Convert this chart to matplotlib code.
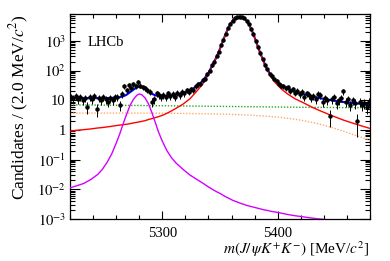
import numpy as np
import matplotlib
matplotlib.use("Agg")
import matplotlib.pyplot as plt
from matplotlib.ticker import LogLocator, FuncFormatter, MultipleLocator, NullFormatter

plt.rcParams['font.family'] = ['Liberation Serif', 'DejaVu Serif']
plt.rcParams['mathtext.fontset'] = 'stix'

# ---- data: counts per 2 MeV bin ----
bin_centers = np.arange(5221, 5480, 2)
counts = [13, 12, 14, 11, 13, 10, 12, 6, 13, 11, 14, 5, 12, 10, 13, 11, 9, 12, 10, 13,
          13, 7, 16, 30, 22, 32, 26, 34, 29, 40, 31, 27, 25, 22, 19, 9, 11, 17, 15, 13,
          15, 13, 17, 14, 16, 13, 18, 15, 19, 17, 22, 19, 24, 22, 29, 34, 36, 47,
          53, 75, 96, 148, 196, 300, 430, 700, 1090, 1760, 2600, 3750, 4800, 5700, 6350,
          6550, 6250, 5800, 4750, 3600, 2550, 1640, 1010, 610, 375, 250, 158, 112, 76, 66,
          50, 46, 36, 31, 30, 25, 27, 21, 23, 18, 21, 16, 19, 13, 17, 15, 12, 14, 11, 16,
          15, 9, 12, 10, 3, 11, 13, 8, 10, 12, 20, 9, 11, 7, 10, 8, 2, 9, 7, 8, 6, 9]

# ---- fit components sampled along the mass axis ----
curve_x = [5220, 5226, 5232, 5238, 5244, 5248, 5252, 5256, 5260, 5263, 5266, 5269, 5272,
           5275, 5278, 5280, 5282, 5285, 5288, 5291, 5294, 5297, 5300, 5304, 5308, 5312,
           5318, 5324, 5330, 5335, 5340, 5343, 5346, 5349, 5351, 5353, 5355, 5357, 5359,
           5361, 5363, 5365, 5367, 5369, 5371, 5373, 5375, 5377, 5379, 5381, 5383, 5385,
           5387, 5389, 5391, 5394, 5397, 5400, 5404, 5409, 5415, 5423, 5430, 5437, 5447,
           5457, 5468, 5480]
sig_bs = [0.91, 0.97, 1.02, 1.08, 1.16, 1.20, 1.26, 1.32, 1.40, 1.45, 1.50, 1.55, 1.62,
          1.72, 1.80, 1.86, 1.93, 2.04, 2.24, 2.40, 2.60, 2.82, 3.09, 3.63, 4.37, 5.37,
          7.41, 11.2, 20.4, 34.7, 74, 132, 229, 427, 676, 1096, 1738, 2630, 3715,
          4786, 5754, 6310, 6607, 6310, 5754, 4786, 3631, 2512, 1660, 1000, 603, 372,
          234, 151, 100, 63, 42.7, 31.6, 22.4, 15.8, 11.2, 7.94, 5.75, 4.37, 3.02,
          2.14, 1.55, 1.12]
sig_b0 = [0.0112, 0.0132, 0.0158, 0.0214, 0.0316, 0.0468, 0.0794, 0.151, 0.355, 0.708,
          1.58, 3.31, 6.61, 10.7, 14.8, 16.2, 15.5, 12.0, 7.59, 3.80, 1.74, 0.794, 0.417,
          0.200, 0.115, 0.0759, 0.0468, 0.0302, 0.0214, 0.0162, 0.0120, 0.0102, 0.00871,
          0.00759, 0.00692, 0.00617, 0.00562, 0.00513, 0.00468, 0.00427, 0.00398, 0.00372,
          0.00347, 0.00324, 0.00309, 0.00288, 0.00275, 0.00263, 0.00251, 0.00240, 0.00229,
          0.00219, 0.00209, 0.00200, 0.00195, 0.00182, 0.00174, 0.00166, 0.00155, 0.00141,
          0.00129, 0.00117, 0.00107, 0.00100, 0.00091, 0.00083, 0.00076, 0.00069]
bkg_comb = [7.00, 6.96, 6.93, 6.89, 6.85, 6.83, 6.80, 6.78, 6.75, 6.74, 6.72, 6.70, 6.68,
            6.66, 6.64, 6.63, 6.62, 6.60, 6.58, 6.56, 6.54, 6.53, 6.51, 6.48, 6.46, 6.43,
            6.40, 6.36, 6.32, 6.29, 6.26, 6.24, 6.23, 6.21, 6.20, 6.19, 6.17, 6.16, 6.15,
            6.14, 6.12, 6.11, 6.10, 6.09, 6.07, 6.06, 6.05, 6.04, 6.02, 6.01, 6.00, 5.99,
            5.97, 5.96, 5.95, 5.93, 5.91, 5.89, 5.87, 5.84, 5.80, 5.77, 5.74, 5.71, 5.68,
            5.64, 5.61, 5.58]
bkg_refl = [3.70, 3.70, 3.70, 3.70, 3.70, 3.70, 3.70, 3.70, 3.69, 3.69, 3.69, 3.69, 3.68,
            3.68, 3.68, 3.67, 3.67, 3.67, 3.66, 3.66, 3.65, 3.65, 3.64, 3.63, 3.62, 3.61,
            3.59, 3.56, 3.53, 3.51, 3.48, 3.46, 3.44, 3.42, 3.40, 3.39, 3.37, 3.35, 3.33,
            3.31, 3.29, 3.27, 3.25, 3.23, 3.20, 3.17, 3.14, 3.11, 3.08, 3.05, 3.02, 2.99,
            2.95, 2.92, 2.88, 2.82, 2.76, 2.70, 2.60, 2.46, 2.28, 2.02, 1.78, 1.54, 1.21,
            0.90, 0.64, 0.46]

total = (np.array(sig_bs) + np.array(sig_b0) + np.array(bkg_comb) + np.array(bkg_refl))
counts_arr = np.array(counts, dtype=float)
err = np.sqrt(counts_arr)

fig = plt.figure(figsize=(3.9, 2.61), dpi=100)
ax = fig.add_axes([0.1795, 0.1609, 0.7692, 0.7855])

ax.plot(curve_x, total, color='#0000ff', lw=1.5, zorder=2)
ax.plot(curve_x, sig_bs, color='#ff0000', lw=1.0, zorder=3)
ax.plot(curve_x, sig_b0, color='#d400ff', lw=1.0, zorder=3)
ax.plot(curve_x, bkg_comb, color='#22aa22', lw=1.0, ls=(0, (1, 1.2)), zorder=2)
ax.plot(curve_x, bkg_refl, color='#ffaa66', lw=1.0, ls=(0, (1, 1.2)), zorder=2)

ax.errorbar(bin_centers, counts_arr, yerr=[err, err], fmt='o', color='black',
            ms=2.2, elinewidth=0.7, capsize=0, zorder=4)

ax.set_yscale('log')
ax.set_xlim(5220, 5480)
ax.set_ylim(1e-3, 8000)

ax.xaxis.set_major_locator(MultipleLocator(100))
ax.xaxis.set_minor_locator(MultipleLocator(20))
ax.yaxis.set_major_locator(LogLocator(base=10, numticks=20))
ax.yaxis.set_minor_locator(LogLocator(base=10, subs=np.arange(2, 10), numticks=20))
ax.yaxis.set_minor_formatter(NullFormatter())


def yfmt(v, pos):
    e = int(round(np.log10(v)))
    if e == 0:
        return '1'
    if e == 1:
        return '10'
    return r'$10^{%d}$' % e


ax.yaxis.set_major_formatter(FuncFormatter(yfmt))

ax.tick_params(which='both', direction='in', top=True, right=True, labelsize=10.5,
               width=0.8)
ax.tick_params(axis='x', which='major', length=6, pad=6)
ax.tick_params(axis='x', which='minor', length=3)
ax.tick_params(axis='y', which='major', length=7, pad=3)
ax.tick_params(axis='y', which='minor', length=3.5)
for s in ax.spines.values():
    s.set_linewidth(0.9)

ax.set_xlabel(r'$m(J/\,\psi K^{+}K^{-})$ [MeV/$c^{2}$]', fontsize=11, loc='right',
              labelpad=-1)
ax.set_ylabel(r'Candidates / (2.0 MeV/$c^{2}$)', fontsize=12.5, loc='top', labelpad=4)

ax.text(0.06, 0.86, 'LHCb', transform=ax.transAxes, fontsize=10.5, ha='left',
        va='center')

fig.savefig('out.png', dpi=100)
